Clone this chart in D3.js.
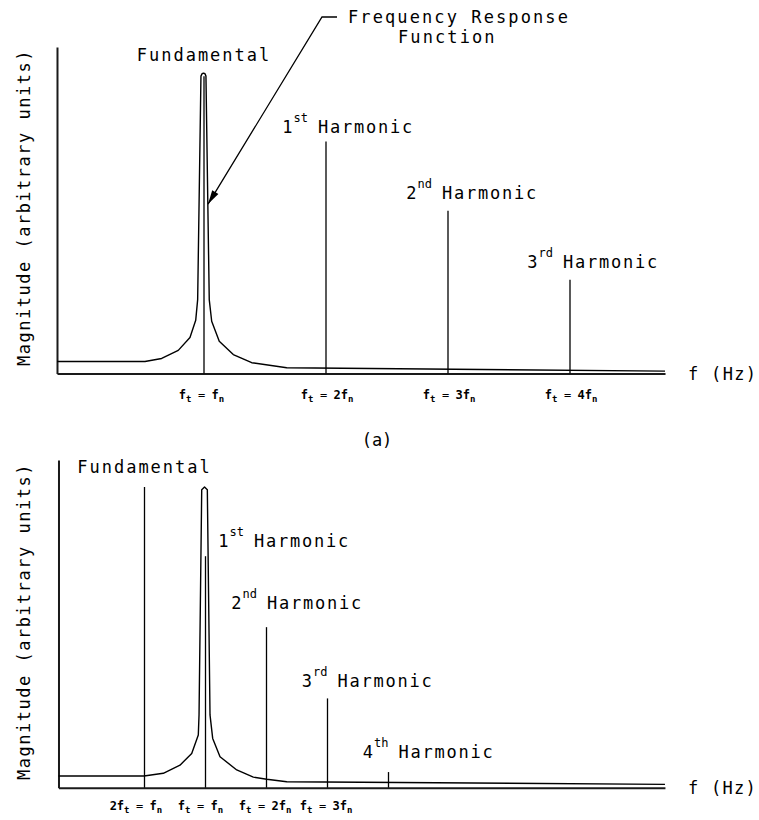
<!DOCTYPE html>
<html>
<head>
<meta charset="utf-8">
<script src="https://cdn.jsdelivr.net/npm/d3@7"></script>
<style>
  body { margin: 0; background: #fff; }
  text { font-family: "DejaVu Sans Mono", monospace; fill: #000; }
</style>
</head>
<body>
<svg id="chart" width="759" height="820"></svg>
<script>
// ---- Panel (a): forcing at the natural frequency (frequencies in units of fn) ----
const frfFreqA = [-0.205, 0.516, 0.653, 0.789, 0.885, 0.932, 0.948, 0.975, 0.984, 0.996, 1.008, 1.016, 1.043, 1.063, 1.125, 1.240, 1.391, 1.678, 4.779];
const frfMagA  = [4.0, 4.0, 5.0, 7.7, 12.0, 17.7, 24.6, 99.0, 99.8, 100, 99.8, 99.0, 24.6, 17.4, 10.7, 6.3, 3.6, 1.9, 0.8];
const harmFreqA = [1, 2, 3, 4];
const harmMagA  = [99, 77.2, 54.2, 31.2];
const harmNumA  = ["", "1", "2", "3"];
const harmSupA  = ["", "st", "nd", "rd"];
const tickFreqA  = [1, 2, 3, 4];
const tickLabelA = ["f_t = f_n", "f_t = 2f_n", "f_t = 3f_n", "f_t = 4f_n"];

// ---- Panel (b): forcing at half the natural frequency ----
const frfFreqB = [-0.205, 0.496, 0.654, 0.791, 0.887, 0.941, 0.947, 0.969, 0.992, 1.015, 1.037, 1.059, 1.119, 1.256, 1.392, 1.502, 1.666, 4.766];
const frfMagB  = [3.9, 3.9, 4.8, 7.5, 11.4, 17.5, 24.2, 99.1, 100, 99.1, 24.2, 16.4, 10.3, 5.9, 3.5, 2.8, 2.0, 1.1];
const harmFreqB = [0.5, 1, 1.5, 2, 2.5];
const harmMagB  = [100, 77.0, 53.4, 29.7, 5.2];
const harmNumB  = ["", "1", "2", "3", "4"];
const harmSupB  = ["", "st", "nd", "rd", "th"];
const tickFreqB  = [0.5, 1, 1.5, 2];
const tickLabelB = ["2f_t = f_n", "f_t = f_n", "f_t = 2f_n", "f_t = 3f_n"];

// Pointer from the "Frequency Response Function" note onto the curve (f/fn, magnitude)
const frfPointer = [1.033, 56.4];

const svg = d3.select("#chart");

// Layout of each panel
const panels = [
  {
    frf: [frfFreqA, frfMagA], harm: [harmFreqA, harmMagA, harmNumA, harmSupA],
    ticks: [tickFreqA, tickLabelA],
    x0: 82, unit: 122, fMin: -0.205, fMax: 4.779,
    yBase: 373.5, yTop: 47, yMax: 108.7,
    fundOffset: -15,
    harmOffsets: [[-8, -9], [-6, -12], [-7, -12]],
    eqShift: -2.5, labelY: 399, yLabelCenter: 207.5, caption: "(a)"
  },
  {
    frf: [frfFreqB, frfMagB], harm: [harmFreqB, harmMagB, harmNumB, harmSupB],
    ticks: [tickFreqB, tickLabelB],
    x0: 83.5, unit: 122, fMin: -0.205, fMax: 4.766,
    yBase: 787.7, yTop: 460, yMax: 109,
    fundOffset: -14,
    harmOffsets: [[48.5, -9], [0.5, -18], [10, -11], [10, -14]],
    eqShift: -5, labelY: 810, yLabelCenter: 621.5, caption: null
  }
];

const mainSize = 17, supSize = 12, spacing = 1.75, tickSize = 12;

// Writes "a_b" style strings: characters after "_" become subscripts
function writeSubscripted(textSel, str) {
  const parts = str.split(/(_.)/).filter(s => s.length);
  let lowered = false;
  parts.forEach(p => {
    if (p[0] === "_") {
      textSel.append("tspan").attr("font-size", 9).attr("dy", lowered ? 0 : 3).text(p[1]);
      lowered = true;
    } else {
      textSel.append("tspan").attr("dy", lowered ? -3 : 0).text(p);
      lowered = false;
    }
  });
}

let xA, yA;

panels.forEach((p, pi) => {
  const x = d3.scaleLinear()
    .domain([p.fMin, p.fMax])
    .range([p.x0 + p.fMin * p.unit, p.x0 + p.fMax * p.unit]);
  const y = d3.scaleLinear().domain([0, p.yMax]).range([p.yBase, p.yTop]);
  if (pi === 0) { xA = x; yA = y; }

  const g = svg.append("g");

  // Axes: plain lines, no tick marks
  const xAxis = g.append("g").attr("transform", `translate(0,${p.yBase})`)
    .call(d3.axisBottom(x).tickValues([]).tickSizeOuter(0));
  xAxis.select(".domain").attr("stroke", "#1a1a1a").attr("stroke-width", 2);
  const yAxis = g.append("g").attr("transform", `translate(${x(p.fMin)},0)`)
    .call(d3.axisLeft(y).tickValues([]).tickSizeOuter(0));
  yAxis.select(".domain").attr("stroke", "#1a1a1a").attr("stroke-width", 2);

  // Frequency response function
  const [ff, fm] = p.frf;
  const line = d3.line().x(d => x(d[0])).y(d => y(d[1]));
  g.append("path")
    .datum(ff.map((f, i) => [f, fm[i]]))
    .attr("d", line)
    .attr("fill", "none").attr("stroke", "#000")
    .attr("stroke-width", 1.4).attr("stroke-linejoin", "round");

  // Spectral lines of the response
  const [hf, hm, hn, hs] = p.harm;
  g.selectAll("line.harm").data(hf).join("line")
    .attr("class", "harm")
    .attr("x1", d => x(d)).attr("x2", d => x(d))
    .attr("y1", y(0)).attr("y2", (d, i) => y(hm[i]))
    .attr("stroke", "#000").attr("stroke-width", 1.3);

  // Labels of the spectral lines
  hf.forEach((f, i) => {
    const lx = x(f), ly = y(hm[i]);
    if (i === 0) {
      g.append("text").attr("x", lx).attr("y", ly + p.fundOffset)
        .attr("text-anchor", "middle").attr("font-size", mainSize)
        .attr("letter-spacing", 2).text("Fundamental");
      return;
    }
    const [dx, dy] = p.harmOffsets[i - 1];
    const hx = lx + dx, by = ly + dy;
    g.append("text").attr("x", hx).attr("y", by)
      .attr("font-size", mainSize).attr("letter-spacing", spacing).text("Harmonic");
    const sup = g.append("text").attr("x", hx - 10).attr("y", by - 11)
      .attr("text-anchor", "end").attr("font-size", supSize).text(hs[i]);
    const supW = sup.node().getComputedTextLength();
    g.append("text").attr("x", hx - 10 - supW - 1).attr("y", by)
      .attr("text-anchor", "end").attr("font-size", mainSize).text(hn[i]);
  });

  // Tick labels, aligned on their "=" signs
  const [tf, tl] = p.ticks;
  tf.forEach((f, i) => {
    const [left, right] = tl[i].split(" = ");
    const eqX = x(f) + p.eqShift;
    const lt = g.append("text").attr("x", eqX - 10).attr("y", p.labelY)
      .attr("text-anchor", "end").attr("font-size", tickSize).attr("font-weight", "bold");
    writeSubscripted(lt, left);
    g.append("text").attr("x", eqX).attr("y", p.labelY)
      .attr("text-anchor", "middle").attr("font-size", tickSize).text("=");
    const rt = g.append("text").attr("x", eqX + 10).attr("y", p.labelY)
      .attr("text-anchor", "start").attr("font-size", tickSize).attr("font-weight", "bold");
    writeSubscripted(rt, right);
  });

  // Axis titles
  g.append("text").attr("x", x(p.fMax) + 23).attr("y", p.yBase + 6)
    .attr("font-size", mainSize).attr("letter-spacing", 1.3).text("f (Hz)");
  g.append("text")
    .attr("transform", `translate(30,${p.yLabelCenter}) rotate(-90)`)
    .attr("text-anchor", "middle").attr("font-size", mainSize)
    .attr("letter-spacing", 1.5).text("Magnitude (arbitrary units)");

  if (p.caption) {
    g.append("text").attr("x", 377).attr("y", 446)
      .attr("text-anchor", "middle").attr("font-size", mainSize).text(p.caption);
  }
});

// Note with pointer onto the response curve in panel (a)
svg.append("text").attr("x", 348).attr("y", 23)
  .attr("font-size", mainSize).attr("letter-spacing", 2.1).text("Frequency Response");
svg.append("text").attr("x", 398).attr("y", 43)
  .attr("font-size", mainSize).attr("letter-spacing", 2.1).text("Function");

const tip = [xA(frfPointer[0]), yA(frfPointer[1])];
const elbow = [322, 17];
svg.append("polyline")
  .attr("points", [[337, 17], elbow, tip].map(d => d.join(",")).join(" "))
  .attr("fill", "none").attr("stroke", "#000").attr("stroke-width", 1.3);
const ang = Math.atan2(tip[1] - elbow[1], tip[0] - elbow[0]);
const headLen = 14, headW = 3.6;
const bx = tip[0] - headLen * Math.cos(ang), byy = tip[1] - headLen * Math.sin(ang);
svg.append("polygon")
  .attr("points", [
    tip,
    [bx + headW * Math.sin(ang), byy - headW * Math.cos(ang)],
    [bx - headW * Math.sin(ang), byy + headW * Math.cos(ang)]
  ].map(d => d.join(",")).join(" "))
  .attr("fill", "#000");
</script>
</body>
</html>
